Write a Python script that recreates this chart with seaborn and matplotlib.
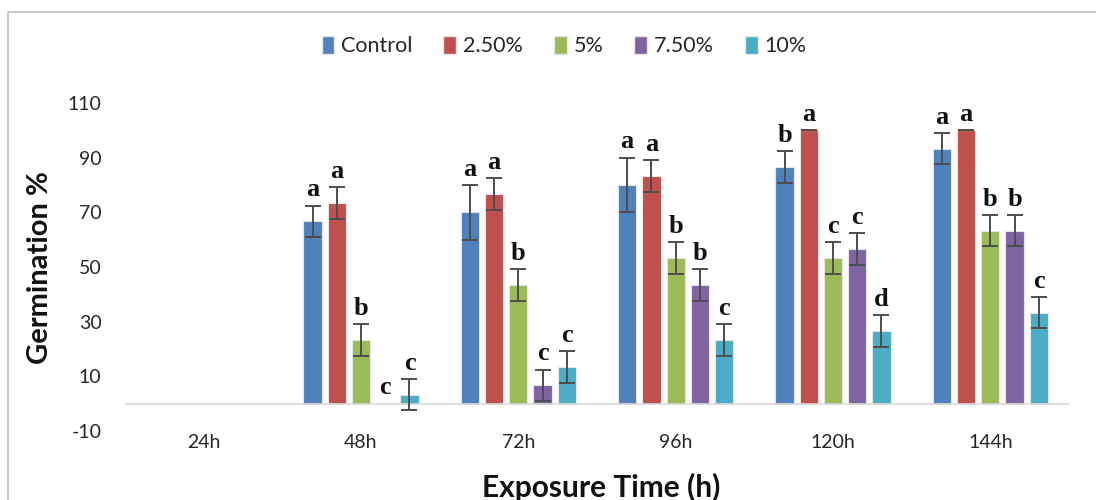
import matplotlib
matplotlib.use("Agg")
import matplotlib.pyplot as plt
from matplotlib.patches import Patch, Rectangle
import numpy as np
import pandas as pd
import seaborn as sns

# Germination (%) by exposure time and extract concentration
times = ["24h", "48h", "72h", "96h", "120h", "144h"]
treatments = ["Control", "2.50%", "5%", "7.50%", "10%"]

control = [0, 66.67, 70.00, 80.00, 86.67, 93.33]
conc_2_5 = [0, 73.33, 76.67, 83.33, 100.00, 100.00]
conc_5 = [0, 23.33, 43.33, 53.33, 53.33, 63.33]
conc_7_5 = [0, 0, 6.67, 43.33, 56.67, 63.33]
conc_10 = [0, 3.33, 13.33, 23.33, 26.67, 33.33]

# Standard errors
err_control = [0, 5.77, 10.00, 10.00, 5.77, 5.77]
err_2_5 = [0, 5.77, 5.77, 5.77, 0, 0]
err_5 = [0, 5.77, 5.77, 5.77, 5.77, 5.77]
err_7_5 = [0, 0, 5.77, 5.77, 5.77, 5.77]
err_10 = [0, 5.77, 5.77, 5.77, 5.77, 5.77]

# Significance letters (empty where not shown)
let_control = ["", "a", "a", "a", "b", "a"]
let_2_5 = ["", "a", "a", "a", "a", "a"]
let_5 = ["", "b", "b", "b", "c", "b"]
let_7_5 = ["", "c", "c", "b", "c", "b"]
let_10 = ["", "c", "c", "c", "d", "c"]

values = [control, conc_2_5, conc_5, conc_7_5, conc_10]
errors = [err_control, err_2_5, err_5, err_7_5, err_10]
letters = [let_control, let_2_5, let_5, let_7_5, let_10]
colors = ["#4F81BD", "#C0504D", "#9BBB59", "#8064A2", "#4BACC6"]

df = pd.DataFrame(
    [(t, tr, v) for tr, vals in zip(treatments, values) for t, v in zip(times, vals)],
    columns=["time", "treatment", "germination"],
)

sns.set_theme(style="white")
plt.rcParams["font.family"] = ["Lato", "DejaVu Sans"]
plt.rcParams["axes.unicode_minus"] = False

fig = plt.figure(figsize=(10.96, 5.0), dpi=100)
ax = fig.add_axes([125 / 1096, 1 - 431 / 500, 944 / 1096, 328 / 500])

sns.barplot(
    data=df, x="time", y="germination", hue="treatment",
    order=times, hue_order=treatments, palette=colors, saturation=1,
    width=0.77, gap=0.25, errorbar=None, legend=False,
    edgecolor="#e6e6e6", linewidth=0.8, ax=ax,
)

# Error bars and letters on each bar
for cont, errs, lets in zip(ax.containers, errors, letters):
    for bar, e, lab in zip(cont, errs, lets):
        xc = bar.get_x() + bar.get_width() / 2
        h = bar.get_height()
        if h > 0:
            ax.errorbar(xc, h, yerr=e, fmt="none", ecolor="#4d4d4d",
                        elinewidth=1.4, capsize=5.5, capthick=1.4, zorder=3)
        if lab:
            ax.annotate(lab, (xc, h + e), xytext=(0, 3), textcoords="offset points",
                        ha="center", va="bottom", fontsize=19, fontweight="bold",
                        family="Liberation Serif", color="#111111")

ax.set_ylim(-10, 110)
ax.set_yticks(np.arange(-10, 111, 20))
ax.set_xlim(-0.5, len(times) - 0.5)
ax.axhline(0, color="#d9d9d9", lw=1.2, zorder=1)
for s in ax.spines.values():
    s.set_visible(False)
ax.tick_params(axis="both", length=0, labelsize=14, colors="#262626")
ax.tick_params(axis="y", pad=17)
ax.tick_params(axis="x", pad=2)
ax.set_xlabel("")
ax.set_ylabel("")

fig.text(40 / 1096, 1 - 268 / 500, "Germination %", rotation=90, ha="center",
         va="center", fontsize=21, fontweight="bold", color="#111111")
fig.text(601 / 1096, 1 - 473 / 500, "Exposure Time (h)", ha="center",
         va="top", fontsize=21.5, fontweight="bold", color="#111111")

handles = [Patch(facecolor=c, edgecolor="#e6e6e6") for c in colors]
fig.legend(handles, treatments, loc="center", bbox_to_anchor=(564 / 1096, 1 - 46 / 500),
           ncol=5, frameon=False, fontsize=15.5, handlelength=0.6, handleheight=0.9,
           handletextpad=0.3, columnspacing=1.45)

fig.patches.append(Rectangle((8 / 1096, -0.1), 1.2, 1 - 12 / 500 + 0.1,
                             transform=fig.transFigure, fill=False,
                             edgecolor="#c0c0c0", lw=1.2))

fig.savefig("out.png", dpi=100, facecolor="white")
